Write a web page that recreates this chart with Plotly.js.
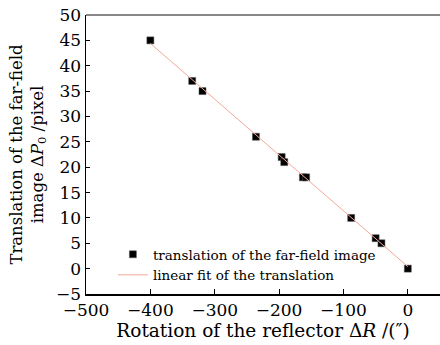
<!DOCTYPE html>
<html>
<head>
<meta charset="utf-8">
<script src="https://cdn.plot.ly/plotly-3.0.1.min.js"></script>
<style>html,body{margin:0;padding:0;background:#fff;}#chart{width:440px;height:345px;}</style>
</head>
<body>
<div id="chart"></div>
<script>
const rotation = [-400, -335, -319, -236, -196, -192, -163, -158, -88, -50, -41, 0];
const translation = [45, 37, 35, 26, 22, 21, 18, 18, 10, 6, 5, 0];
const fitX = [-400, 0];
const fitY = [44.4, 0.4];
const xTicks = [-500, -400, -300, -200, -100, 0];
const yTicks = [-5, 0, 5, 10, 15, 20, 25, 30, 35, 40, 45, 50];

const serif = 'DejaVu Serif';

const traces = [
  {
    x: rotation, y: translation, type: 'scatter', mode: 'markers',
    name: 'translation of the far-field image',
    marker: {symbol: 'square', size: 7, color: '#000', line: {color: '#555', width: 0.5}}
  },
  {
    x: fitX, y: fitY, type: 'scatter', mode: 'lines',
    name: 'linear fit of the translation',
    line: {color: '#f4a898', width: 1}
  }
];

const layout = {
  width: 440, height: 345,
  margin: {l: 86, r: 0, t: 15, b: 51, pad: 0},
  paper_bgcolor: '#fff', plot_bgcolor: '#fff',
  font: {family: serif, color: '#000', size: 17},
  showlegend: true,
  legend: {
    x: 0.076, y: 0.104, xanchor: 'left', yanchor: 'middle',
    bgcolor: 'rgba(0,0,0,0)', borderwidth: 0,
    font: {family: serif, size: 13.5, color: '#000'},
    tracegroupgap: 0
  },
  xaxis: {
    range: [-500, 50], tickvals: xTicks, ticktext: xTicks.map(v => v < 0 ? '\u2212' + Math.abs(v) : String(v)),
    ticks: 'inside', ticklen: 5, tickcolor: '#000', tickwidth: 1,
    showline: true, linecolor: '#000', linewidth: 1.5,
    showgrid: false, zeroline: false,
    tickfont: {family: serif, size: 17, color: '#000'},
    title: {text: 'Rotation of the reflector \u0394<i>R</i> /(\u2033)', font: {family: serif, size: 18.5, color: '#000'}, standoff: 1}
  },
  yaxis: {
    range: [-5, 50], tickvals: yTicks, ticktext: yTicks.map(v => v < 0 ? '\u2212' + Math.abs(v) : String(v)),
    ticks: 'inside', ticklen: 4, tickcolor: '#000', tickwidth: 1,
    showline: true, linecolor: '#000', linewidth: 1.5,
    showgrid: false, zeroline: false,
    tickfont: {family: serif, size: 17, color: '#000'},
    title: {text: 'Translation of the far-field<br>image \u0394<i>P</i><sub>0</sub> /pixel', font: {family: serif, size: 16.5, color: '#000'}, standoff: 8}
  },
  shapes: [
    {type: 'line', xref: 'paper', yref: 'paper', x0: 0, x1: 1, y0: 1, y1: 1, line: {color: '#888', width: 2}}
  ]
};

Plotly.newPlot('chart', traces, layout, {displayModeBar: false, staticPlot: true});
</script>
</body>
</html>
